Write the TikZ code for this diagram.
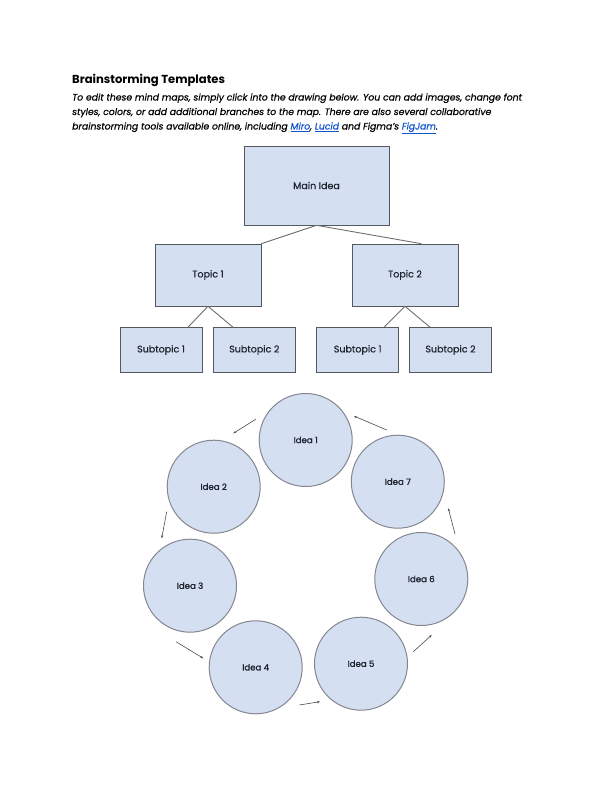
\documentclass[tikz,border=0pt]{standalone}
\usepackage{fontspec}
\setmainfont{Poppins}
\newfontfamily\medfont[FakeBold=0.7]{Poppins}
\newfontfamily\semifont[FakeBold=1.4]{Poppins}
\usetikzlibrary{arrows.meta}
\definecolor{boxfill}{HTML}{D4E0F1}
\definecolor{boxline}{HTML}{55585E}
\definecolor{circline}{HTML}{85868F}
\definecolor{linkblue}{HTML}{1155CC}
\definecolor{conn}{HTML}{6E6E6E}
\definecolor{txtc}{HTML}{1F2430}
\begin{document}
\begin{tikzpicture}[x=1pt,y=-1pt,
  box/.style={draw=boxline,fill=boxfill,line width=0.6pt,inner sep=0pt,text=txtc,font=\medfont\fontsize{9.5}{11}\selectfont},
  idea/.style={circle,draw=circline,fill=boxfill,line width=1pt,minimum size=93pt,inner sep=0pt,text=txtc,font=\semifont\fontsize{8.6}{10}\selectfont},
  link/.style={draw=conn,line width=0.9pt},
  flow/.style={draw=conn!70!black,line width=0.6pt,-{Stealth[length=3pt,width=2.4pt]}},
  txt/.style={anchor=base west,inner sep=0pt}]
\useasboundingbox (0,0) rectangle (612,792);
% header
\node[txt,font=\fontsize{11.6}{13}\selectfont\bfseries] (title) at (72,84) {Brainstorming Templates};
\node[txt,font=\fontsize{9.3}{11}\selectfont\itshape\addfontfeature{FakeBold=0.6}] (l1) at (72,100.5) {To edit these mind maps, simply click into the drawing below. You can add images, change font};
\node[txt,font=\fontsize{9.3}{11}\selectfont\itshape\addfontfeature{FakeBold=0.6}] (l2) at (72,115) {styles, colors, or add additional branches to the map. There are also several collaborative};
\node[txt,font=\fontsize{9.3}{11}\selectfont\itshape\addfontfeature{FakeBold=0.6}] (l3) at (72,129.5) {brainstorming tools available online, including \textcolor{linkblue}{\underline{Miro}}, \textcolor{linkblue}{\underline{Lucid}} and Figma’s \textcolor{linkblue}{\underline{FigJam}}.};
% tree
\node[box,minimum width=145pt,minimum height=79pt] (main) at (316.5,185.5) {Main Idea};
\node[box,minimum width=106pt,minimum height=62pt] (t1) at (208,275) {Topic 1};
\node[box,minimum width=106pt,minimum height=62pt] (t2) at (405,275) {Topic 2};
\node[box,minimum width=82pt,minimum height=45pt] (s1) at (161,350) {Subtopic 1};
\node[box,minimum width=82pt,minimum height=45pt] (s2) at (254.3,350) {Subtopic 2};
\node[box,minimum width=82pt,minimum height=45pt] (s3) at (357.7,350) {Subtopic 1};
\node[box,minimum width=82pt,minimum height=45pt] (s4) at (450.5,350) {Subtopic 2};
\draw[link] (main.south) -- (t1.north east);
\draw[link] (main.south) -- ([xshift=-37pt]t2.north east);
\draw[link] (t1.south) -- ([xshift=-20pt]t1.south |- s1.north);
\draw[link] (t1.south) -- ([xshift=25pt]t1.south |- s2.north);
\draw[link] (t2.south) -- ([xshift=-21pt]t2.south |- s3.north);
\draw[link] (t2.south) -- ([xshift=25pt]t2.south |- s4.north);
% cycle
\node[idea] (i1) at (305.7,440) {Idea 1};
\node[idea] (i2) at (213.7,486.7) {Idea 2};
\node[idea] (i3) at (190,585.7) {Idea 3};
\node[idea] (i4) at (255.7,667.3) {Idea 4};
\node[idea] (i5) at (361,663.7) {Idea 5};
\node[idea] (i6) at (421.3,579) {Idea 6};
\node[idea] (i7) at (397.8,481.7) {Idea 7};
\coordinate (a1s) at (255.7,419.3); \coordinate (a1e) at (233.3,433.3);
\coordinate (a2s) at (166.7,511.7); \coordinate (a2e) at (161.7,538.3);
\coordinate (a3s) at (176,641.7);   \coordinate (a3e) at (203.3,658.3);
\coordinate (a4s) at (299.3,705);   \coordinate (a4e) at (320,701.7);
\coordinate (a5s) at (413.3,651.7); \coordinate (a5e) at (431.7,635);
\coordinate (a6s) at (455,534);     \coordinate (a6e) at (448.3,508.3);
\coordinate (a7s) at (386.7,430);   \coordinate (a7e) at (354,416);
\draw[flow] (a1s) -- (a1e);
\draw[flow] (a2s) -- (a2e);
\draw[flow] (a3s) -- (a3e);
\draw[flow] (a4s) -- (a4e);
\draw[flow] (a5s) -- (a5e);
\draw[flow] (a6s) -- (a6e);
\draw[flow] (a7s) -- (a7e);
\end{tikzpicture}
\end{document}
